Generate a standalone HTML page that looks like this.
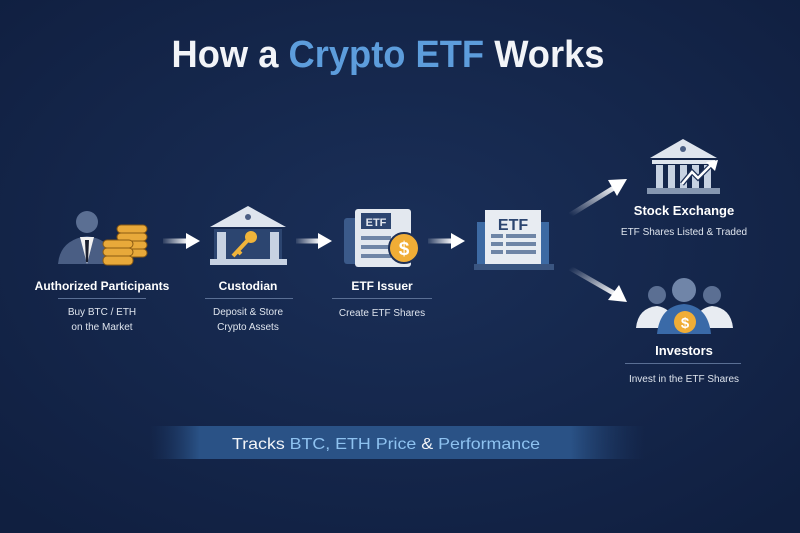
<!DOCTYPE html>
<html><head><meta charset="utf-8"><style>
html,body{margin:0;padding:0;width:800px;height:533px;overflow:hidden;background:#13244a}
svg{display:block}
text{font-family:"Liberation Sans",sans-serif}
</style></head><body>
<svg width="800" height="533" viewBox="0 0 800 533" xmlns="http://www.w3.org/2000/svg">
<defs>
<radialGradient id="bg" cx="0.5" cy="0.45" r="0.7">
<stop offset="0" stop-color="#1a2f58"/><stop offset="1" stop-color="#101f40"/>
</radialGradient>
<linearGradient id="ban" x1="0" x2="1" y1="0" y2="0">
<stop offset="0" stop-color="#1b3764" stop-opacity="0"/>
<stop offset="0.1" stop-color="#2a5286"/>
<stop offset="0.85" stop-color="#2a5286"/>
<stop offset="1" stop-color="#1b3764" stop-opacity="0"/>
</linearGradient>
<linearGradient id="arr" x1="0" x2="1"><stop offset="0" stop-color="#fff" stop-opacity="0.1"/><stop offset="1" stop-color="#fff"/></linearGradient>
<linearGradient id="arrU" x1="0" y1="1" x2="1" y2="0"><stop offset="0" stop-color="#fff" stop-opacity="0"/><stop offset="1" stop-color="#fff"/></linearGradient>
<linearGradient id="arrD" x1="0" y1="0" x2="1" y2="1"><stop offset="0" stop-color="#fff" stop-opacity="0"/><stop offset="1" stop-color="#fff"/></linearGradient>
</defs>
<rect width="800" height="533" fill="url(#bg)"/>
<text x="388" y="67" text-anchor="middle" font-size="38" font-weight="bold" fill="#f2f4f8" textLength="433" lengthAdjust="spacingAndGlyphs">How a <tspan fill="#5d9ddc">Crypto ETF</tspan> Works</text>

<!-- AP person -->
<circle cx="87" cy="222" r="11" fill="#5b6f93"/>
<path d="M58 264 Q60 240 87 236 Q114 240 116 264 Z" fill="#4a5e84"/>
<path d="M80 237 L87 264 L94 237 Z" fill="#f2f2f2"/>
<path d="M85 240 L89 240 L88 262 L86 262 Z" fill="#1a1f2e"/>
<g fill="#e8a93a" stroke="#8a5a12" stroke-width="1">
<rect x="117" y="225" width="30" height="8" rx="4"/><rect x="117" y="233" width="30" height="8" rx="4"/><rect x="117" y="241" width="30" height="8" rx="4"/><rect x="117" y="249" width="30" height="8" rx="4"/>
<rect x="103" y="240" width="30" height="8" rx="4"/><rect x="103" y="248" width="30" height="8" rx="4"/><rect x="103" y="256" width="30" height="9" rx="4"/>
</g>
<rect x="163" y="238.5" width="25" height="5" fill="url(#arr)"/><path d="M186 233 L200 241 L186 249 Z" fill="#fff"/>

<!-- custodian -->
<path d="M210 227 L248 206 L286 227 Z" fill="#dfe5ee"/>
<circle cx="248" cy="217" r="3" fill="#4a5e84"/>
<rect x="214" y="229" width="68" height="30" fill="#2c4570"/>
<rect x="217" y="232" width="9" height="27" fill="#c7d2e2"/><rect x="270" y="232" width="9" height="27" fill="#c7d2e2"/>
<rect x="210" y="259" width="77" height="6" fill="#c7d2e2"/>
<circle cx="251" cy="237" r="6" fill="#f0b43a"/><path d="M247 241 L233 256 M238 251 L241 254" stroke="#f0b43a" stroke-width="4"/>
<rect x="296" y="238.5" width="24" height="5" fill="url(#arr)"/><path d="M318 233 L332 241 L318 249 Z" fill="#fff"/>

<!-- ETF issuer -->
<rect x="344" y="218" width="20" height="46" rx="3" fill="#3b5a8a"/>
<rect x="355" y="209" width="56" height="58" rx="3" fill="#e3e8ef"/>
<rect x="361" y="213" width="30" height="16" fill="#2c4570"/>
<text x="376" y="226" text-anchor="middle" font-size="11" font-weight="bold" fill="#e3e8ef">ETF</text>
<rect x="361" y="236" width="30" height="4" fill="#6f85a6"/><rect x="361" y="245" width="30" height="4" fill="#6f85a6"/><rect x="361" y="254" width="30" height="4" fill="#6f85a6"/>
<circle cx="404" cy="248" r="15" fill="#f0ad36" stroke="#1d3057" stroke-width="2"/>
<text x="404" y="255" text-anchor="middle" font-size="19" font-weight="bold" fill="#fff">$</text>
<rect x="428" y="238.5" width="25" height="5" fill="url(#arr)"/><path d="M451 233 L465 241 L451 249 Z" fill="#fff"/>

<!-- ETF doc -->
<rect x="477" y="222" width="72" height="42" fill="#3d6aa3"/>
<rect x="485" y="210" width="56" height="55" fill="#e8ecf2"/>
<text x="513" y="230" text-anchor="middle" font-size="16" font-weight="bold" fill="#2c4570">ETF</text>
<g fill="#6f85a6"><rect x="491" y="234" width="12" height="4"/><rect x="506" y="234" width="30" height="4"/><rect x="491" y="242" width="12" height="4"/><rect x="506" y="242" width="30" height="4"/><rect x="491" y="250" width="12" height="4"/><rect x="506" y="250" width="30" height="4"/></g>
<rect x="474" y="264" width="80" height="6" fill="#3a5580"/>

<path d="M570 215 L617 186" stroke="url(#arrU)" stroke-width="5"/><path d="M608 180 L627 179 L617 196 Z" fill="#fff"/>
<path d="M570 268 L617 295" stroke="url(#arrD)" stroke-width="5"/><path d="M619 285 L627 302 L608 300 Z" fill="#fff"/>

<!-- stock exchange -->
<path d="M650 158 L683 139 L717 158 Z" fill="#dfe5ee"/><circle cx="683" cy="149" r="3" fill="#4a5e84"/>
<rect x="652" y="160" width="63" height="4" fill="#dfe5ee"/>
<g fill="#c7d2e2"><rect x="656" y="165" width="7" height="23"/><rect x="668" y="165" width="7" height="23"/><rect x="680" y="165" width="7" height="23"/><rect x="692" y="165" width="7" height="23"/><rect x="704" y="165" width="7" height="23"/></g>
<rect x="647" y="188" width="73" height="6" fill="#8596b0"/>
<path d="M682 184 L692 172 L698 178 L712 164" stroke="#1d3057" stroke-width="5" fill="none"/>
<path d="M682 184 L692 172 L698 178 L712 164" stroke="#fff" stroke-width="2.5" fill="none"/><path d="M706 162 L718 160 L715 171 Z" fill="#fff"/>
<text x="684" y="215" text-anchor="middle" font-size="13" font-weight="bold" fill="#fff">Stock Exchange</text>
<text x="684" y="235" text-anchor="middle" font-size="10" fill="#dfe5ee">ETF Shares Listed &amp; Traded</text>

<!-- investors -->
<circle cx="657" cy="295" r="9" fill="#5b6f93"/><circle cx="712" cy="295" r="9" fill="#5b6f93"/>
<path d="M636 328 Q638 308 657 306 Q670 308 674 320 L674 328 Z" fill="#e8ecf2"/>
<path d="M733 328 Q731 308 712 306 Q699 308 695 320 L695 328 Z" fill="#e8ecf2"/>
<circle cx="684" cy="290" r="12" fill="#7085a8"/>
<path d="M657 334 Q660 306 684 304 Q708 306 711 334 Z" fill="#3a6aa8"/>
<circle cx="685" cy="322" r="11" fill="#f0ad36"/>
<text x="685" y="328" text-anchor="middle" font-size="15" font-weight="bold" fill="#fff">$</text>
<text x="684" y="355" text-anchor="middle" font-size="13" font-weight="bold" fill="#fff">Investors</text>
<rect x="625" y="363" width="116" height="1" fill="#5a6f94"/>
<text x="684" y="382" text-anchor="middle" font-size="10" fill="#dfe5ee">Invest in the ETF Shares</text>

<text x="102" y="290" text-anchor="middle" font-size="12" font-weight="bold" fill="#fff">Authorized Participants</text>
<rect x="58" y="298" width="88" height="1" fill="#5a6f94"/>
<text x="102" y="315" text-anchor="middle" font-size="10" fill="#dfe5ee">Buy BTC / ETH</text>
<text x="102" y="330" text-anchor="middle" font-size="10" fill="#dfe5ee">on the Market</text>
<text x="248" y="290" text-anchor="middle" font-size="12" font-weight="bold" fill="#fff">Custodian</text>
<rect x="205" y="298" width="88" height="1" fill="#5a6f94"/>
<text x="248" y="315" text-anchor="middle" font-size="10" fill="#dfe5ee">Deposit &amp; Store</text>
<text x="248" y="330" text-anchor="middle" font-size="10" fill="#dfe5ee">Crypto Assets</text>
<text x="382" y="290" text-anchor="middle" font-size="12" font-weight="bold" fill="#fff">ETF Issuer</text>
<rect x="332" y="298" width="100" height="1" fill="#5a6f94"/>
<text x="382" y="316" text-anchor="middle" font-size="10" fill="#dfe5ee">Create ETF Shares</text>

<rect x="150" y="426" width="495" height="33" fill="url(#ban)"/>
<text x="386" y="449" text-anchor="middle" font-size="16" fill="#f2f4f8" textLength="308" lengthAdjust="spacingAndGlyphs">Tracks <tspan fill="#8ec2f0">BTC, ETH Price</tspan> &amp; <tspan fill="#8ec2f0">Performance</tspan></text>
</svg>
</body></html>
